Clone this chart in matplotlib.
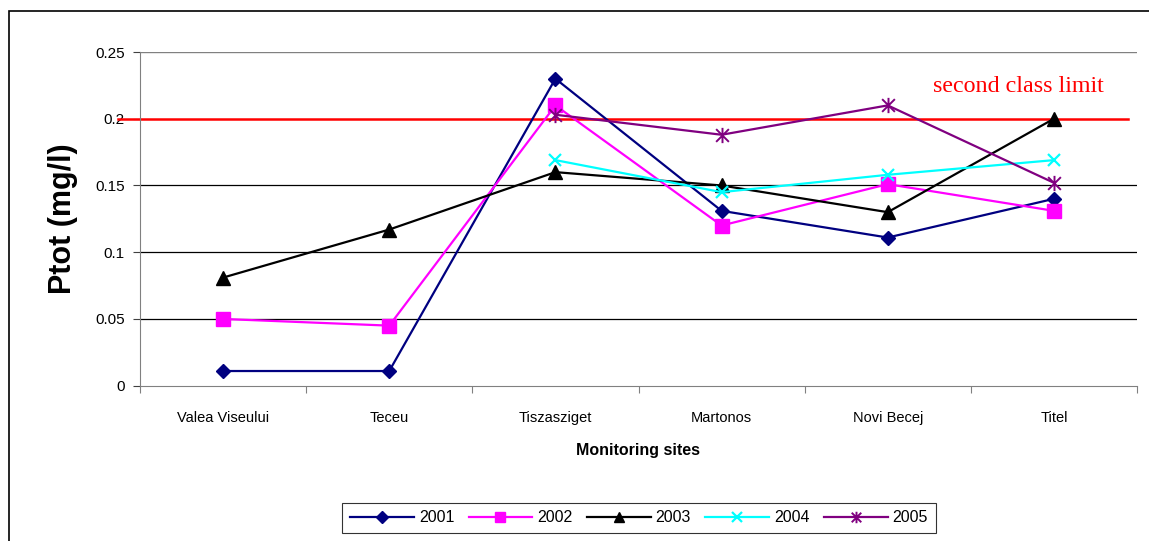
import numpy as np
import matplotlib
matplotlib.use("Agg")
import matplotlib.pyplot as plt
from matplotlib.path import Path
from matplotlib.patches import Rectangle

plt.rcParams['font.family'] = ['Liberation Sans', 'DejaVu Sans']

sites = ["Valea Viseului", "Teceu", "Tiszasziget", "Martonos", "Novi Becej", "Titel"]
years = ["2001", "2002", "2003", "2004", "2005"]

p2001 = [0.011, 0.011, 0.230, 0.131, 0.111, 0.140]
p2002 = [0.050, 0.045, 0.210, 0.120, 0.151, 0.131]
p2003 = [0.081, 0.117, 0.160, 0.150, 0.130, 0.200]
p2004 = [np.nan, np.nan, 0.169, 0.145, 0.158, 0.169]
p2005 = [np.nan, np.nan, 0.203, 0.188, 0.210, 0.152]

limit_value = 0.2
limit_label = "second class limit"

# asterisk marker like the excel one: an x with a vertical bar
star = Path([(-1, -1), (1, 1), (-1, 1), (1, -1), (0, -1.2), (0, 1.2)],
            [Path.MOVETO, Path.LINETO, Path.MOVETO, Path.LINETO, Path.MOVETO, Path.LINETO])

styles = [
    dict(color="#000080", marker="D", ms=7.5),
    dict(color="#FF00FF", marker="s", ms=10.5),
    dict(color="#000000", marker="^", ms=10.5),
    dict(color="#00FFFF", marker="x", ms=9, mew=1.6),
    dict(color="#800080", marker=star, ms=11, mew=1.4),
]

fig = plt.figure(figsize=(11.49, 5.41), dpi=100)
ax = fig.add_axes([140 / 1149, 1 - 385.7 / 541, 997 / 1149, 333.7 / 541])

x = np.arange(len(sites))
for yr, vals, st in zip(years, [p2001, p2002, p2003, p2004, p2005], styles):
    ax.plot(x, vals, lw=1.6, label=yr, zorder=3, **st)

# horizontal gridlines
for g in [0.05, 0.1, 0.15]:
    ax.axhline(g, color="black", lw=0.9, zorder=1)
ax.axhline(0.25, color="#808080", lw=1.0, zorder=1)

# the limit line sticks out past the left axis
ax.plot([-0.633, 5.446], [limit_value, limit_value], color="#FF0000", lw=1.8,
        clip_on=False, zorder=2)
ax.text(4.275, 0.2198, limit_label, color="#FF0000", fontsize=17.3,
        family=["Liberation Serif", "DejaVu Serif"], ha="left", va="baseline")

ax.set_xlim(-0.5, 5.5)
ax.set_ylim(0, 0.25)
ax.set_yticks([0, 0.05, 0.1, 0.15, 0.2, 0.25])
ax.set_yticklabels(["0", "0.05", "0.1", "0.15", "0.2", "0.25"])
ax.set_xticks(np.arange(-0.5, 6, 1))
ax.set_xticklabels([])
ax.set_xticks(x, minor=True)
ax.set_xticklabels(sites, minor=True)
ax.tick_params(axis="x", which="major", direction="out", length=5, color="#808080")
ax.tick_params(axis="x", which="minor", length=0, pad=18, labelsize=10.5)
ax.tick_params(axis="y", direction="out", length=5, color="#404040", pad=6, labelsize=11)

for s in ["top", "right"]:
    ax.spines[s].set_visible(False)
ax.spines["left"].set_color("#808080")
ax.spines["bottom"].set_color("#808080")

ax.set_ylabel("Ptot (mg/l)", fontsize=22, fontweight="bold", labelpad=12)
ax.set_xlabel("Monitoring sites", fontsize=11.5, fontweight="bold", labelpad=13)

leg = ax.legend(loc="center", bbox_to_anchor=(639 / 1149, 1 - 518 / 541),
                bbox_transform=fig.transFigure, ncol=5, frameon=True, fancybox=False,
                edgecolor="black", fontsize=11.5, handlelength=4.0, columnspacing=0.9,
                handletextpad=0.3, borderpad=0.5, markerscale=0.75)
leg.get_frame().set_linewidth(0.8)

# outer chart border
fig.patches.append(Rectangle((8.5 / 1149, -0.1), 1.2, 1 - 10.5 / 541 + 0.1,
                             transform=fig.transFigure, fill=False,
                             edgecolor="black", lw=1.2))

fig.savefig("out.png", dpi=100, facecolor="white")
